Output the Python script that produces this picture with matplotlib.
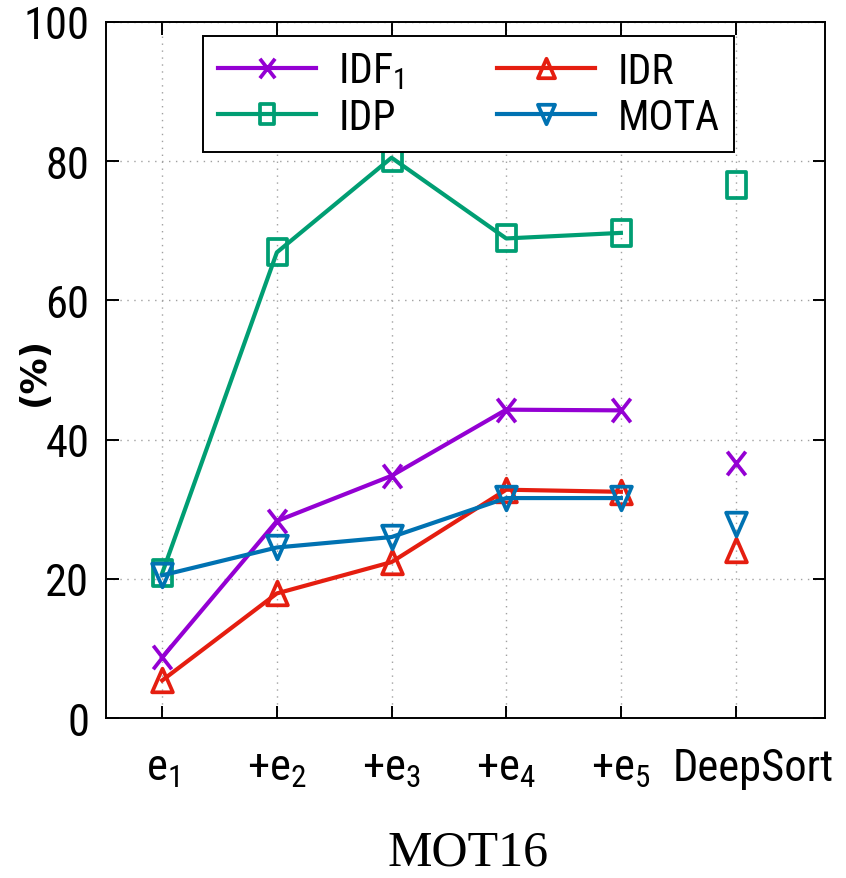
import matplotlib
matplotlib.use("Agg")
import matplotlib.pyplot as plt
from matplotlib import font_manager as fm
from matplotlib.path import Path
from matplotlib.transforms import ScaledTranslation

# ---------------- data ----------------
categories = [r"e$_1$", r"+e$_2$", r"+e$_3$", r"+e$_4$", r"+e$_5$", "DeepSort"]
idf1 = [8.7, 28.3, 34.8, 44.3, 44.2, 36.7]
idp = [20.8, 66.9, 80.5, 68.9, 69.7, 76.6]
idr = [5.4, 17.9, 22.4, 32.8, 32.5, 24.1]
mota = [20.5, 24.5, 26.0, 31.6, 31.6, 27.9]
yticks = [0, 20, 40, 60, 80, 100]
n_connected = 5  # DeepSort point is drawn alone

# ---------------- fonts ----------------
fonts = fm.fontManager.ttflist
names = {f.name for f in fonts}
stretch = "normal"
sans = "DejaVu Sans"
tick_fs, leg_fs = 25, 23
narrow_names = ["Liberation Sans Narrow", "DejaVu Sans Condensed", "Noto Sans Condensed",
                "Roboto Condensed", "Open Sans Condensed"]
found = [n for n in narrow_names if n in names]
cond = [f for f in fonts if f.name in ("DejaVu Sans", "Noto Sans", "Open Sans", "Roboto")
        and str(f.stretch) in ("condensed", "semi-condensed", "75", "87.5", "62.5")]
if found:
    sans = found[0]
    tick_fs, leg_fs = 32, 30
elif cond:
    sans = cond[0].name
    stretch = "condensed"
    tick_fs, leg_fs = 31, 29
plt.rcParams["font.family"] = [sans, "DejaVu Sans"]
plt.rcParams["font.stretch"] = stretch
plt.rcParams["mathtext.fontset"] = "custom"
plt.rcParams["mathtext.rm"] = sans
plt.rcParams["mathtext.it"] = sans
plt.rcParams["mathtext.default"] = "regular"

# ---------------- markers (taller than wide, like the reference) ----------------
sq = Path([(-0.36, -0.5), (0.36, -0.5), (0.36, 0.5), (-0.36, 0.5), (-0.36, -0.5)],
          [Path.MOVETO, Path.LINETO, Path.LINETO, Path.LINETO, Path.CLOSEPOLY])
xm = Path([(-0.39, -0.5), (0.39, 0.5), (-0.39, 0.5), (0.39, -0.5)],
          [Path.MOVETO, Path.LINETO, Path.MOVETO, Path.LINETO])
tu = Path([(0, 0.5), (-0.44, -0.5), (0.44, -0.5), (0, 0.5)],
          [Path.MOVETO, Path.LINETO, Path.LINETO, Path.CLOSEPOLY])
td = Path([(0, -0.5), (-0.44, 0.5), (0.44, 0.5), (0, -0.5)],
          [Path.MOVETO, Path.LINETO, Path.LINETO, Path.CLOSEPOLY])

series = [
    ("IDF$_1$", idf1, "#9400d3", xm, 17),
    ("IDP", idp, "#009e73", sq, 19),
    ("IDR", idr, "#e51e10", tu, 17),
    ("MOTA", mota, "#0072b2", td, 17),
]

fig = plt.figure(figsize=(8.46, 8.79), dpi=100)
ax = fig.add_axes([106 / 846, 1 - 719 / 879, (825 - 106) / 846, (719 - 23) / 879])

xs = list(range(len(categories)))
handles = []
for label, vals, color, marker, ms in series:
    h, = ax.plot(xs[:n_connected], vals[:n_connected], color=color, lw=3.0,
                 marker=marker, ms=ms, mfc="none", mec=color, mew=2.7,
                 label=label, zorder=3)
    ax.plot(xs[n_connected:], vals[n_connected:], ls="none", marker=marker,
            ms=ms, mfc="none", mec=color, mew=2.7, zorder=3)
    handles.append(h)

ax.set_xlim(-0.49, 5.78)
ax.set_ylim(0, 100)
ax.set_xticks(xs)
ax.set_xticklabels(categories, fontsize=tick_fs)
ax.set_yticks(yticks)
ax.set_yticklabels([str(v) for v in yticks], fontsize=tick_fs)

ax.tick_params(axis="both", direction="in", length=9, width=1.4,
               top=True, right=True, colors="black")
ax.tick_params(axis="x", pad=21)
ax.tick_params(axis="y", pad=12)
for s in ax.spines.values():
    s.set_linewidth(1.4)
ax.grid(True, color="#a0a0a0", lw=1.0, ls=(0, (1, 4)))
ax.set_axisbelow(True)

# DeepSort label sits a little right of its tick in the reference
last = ax.get_xticklabels()[-1]
last.set_transform(last.get_transform() + ScaledTranslation(18 / 100, 0, fig.dpi_scale_trans))

ax.set_ylabel("(%)", fontsize=26, fontweight="bold", family="DejaVu Sans", fontstretch="normal")
ax.yaxis.set_label_coords(-0.077, 0.5)
ax.set_xlabel("MOT16", fontsize=36, family="Liberation Serif", fontstretch="normal")
ax.xaxis.label.set_va("baseline")
ax.xaxis.set_label_coords(0.503, (719 - 866) / 696)

top = (719 - 37) / 696
leg = ax.legend(handles, [s[0] for s in series],
                ncol=2, loc="upper left",
                bbox_to_anchor=((203 - 106) / 719, top - 0.1, (734 - 203) / 719, 0.1),
                mode="expand", fontsize=leg_fs, frameon=True, fancybox=False,
                edgecolor="black", framealpha=1, handlelength=2.35, handletextpad=0.55,
                columnspacing=0.8, borderpad=0.35, labelspacing=0.12, borderaxespad=0)
leg.get_frame().set_linewidth(1.4)
for ln in leg.get_lines():
    ln.set_markersize(14)

fig.savefig("out.png", dpi=100)
